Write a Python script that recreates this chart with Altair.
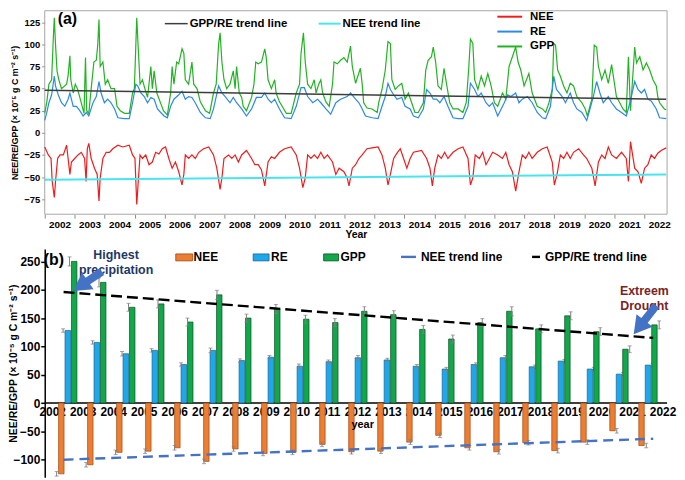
import altair as alt
import pandas as pd

FONT = "Liberation Sans"

# ---------------- panel (a): 8-day fluxes (year, value)
gpp_points = [
    (2002.00, 22), (2002.07, 35), (2002.14, 55), (2002.23, 60), (2002.29, 110), (2002.32, 130),
    (2002.36, 100), (2002.41, 70), (2002.47, 60), (2002.56, 50), (2002.73, 55), (2002.78, 65),
    (2002.84, 87), (2002.87, 60), (2002.95, 45), (2003.02, 55), (2003.09, 50), (2003.17, 40),
    (2003.25, 30), (2003.31, 22), (2003.36, 85), (2003.40, 25), (2003.47, 22), (2003.55, 50),
    (2003.64, 80), (2003.72, 82), (2003.77, 100), (2003.81, 128), (2003.85, 75), (2003.94, 80),
    (2004.02, 55), (2004.10, 60), (2004.21, 50), (2004.33, 50), (2004.41, 30), (2004.52, 25),
    (2004.66, 22), (2004.82, 22), (2004.93, 45), (2004.99, 50), (2005.04, 100), (2005.07, 130),
    (2005.12, 95), (2005.18, 55), (2005.26, 60), (2005.34, 50), (2005.43, 40), (2005.54, 75),
    (2005.59, 50), (2005.65, 70), (2005.74, 45), (2005.85, 35), (2005.96, 25), (2006.09, 20),
    (2006.20, 45), (2006.25, 75), (2006.31, 55), (2006.40, 80), (2006.47, 78), (2006.58, 95),
    (2006.64, 90), (2006.69, 60), (2006.80, 55), (2006.91, 80), (2006.97, 55), (2007.08, 50),
    (2007.19, 35), (2007.36, 25), (2007.50, 22), (2007.63, 45), (2007.72, 55), (2007.80, 100),
    (2007.85, 113), (2007.91, 80), (2007.98, 60), (2008.07, 50), (2008.18, 55), (2008.29, 70),
    (2008.35, 50), (2008.40, 75), (2008.49, 45), (2008.57, 40), (2008.62, 30), (2008.73, 25),
    (2008.90, 40), (2008.98, 55), (2009.04, 80), (2009.12, 78), (2009.23, 80), (2009.34, 95),
    (2009.39, 85), (2009.45, 60), (2009.56, 50), (2009.67, 60), (2009.72, 45), (2009.83, 35),
    (2009.92, 30), (2010.06, 22), (2010.22, 22), (2010.39, 45), (2010.50, 55), (2010.55, 90),
    (2010.63, 113), (2010.69, 80), (2010.77, 55), (2010.88, 50), (2010.99, 60), (2011.05, 45),
    (2011.14, 55), (2011.21, 60), (2011.27, 45), (2011.38, 35), (2011.49, 30), (2011.60, 55),
    (2011.65, 80), (2011.76, 78), (2011.87, 82), (2011.98, 85), (2012.09, 80), (2012.20, 98),
    (2012.26, 75), (2012.37, 56), (2012.53, 73), (2012.59, 55), (2012.64, 34), (2012.75, 28),
    (2012.92, 27), (2013.09, 23), (2013.14, 34), (2013.25, 49), (2013.36, 71), (2013.45, 103),
    (2013.53, 101), (2013.58, 60), (2013.69, 49), (2013.80, 53), (2013.91, 56), (2014.02, 38),
    (2014.13, 45), (2014.24, 34), (2014.35, 23), (2014.46, 23), (2014.63, 34), (2014.71, 71),
    (2014.79, 82), (2014.90, 86), (2014.96, 97), (2015.04, 80), (2015.12, 53), (2015.23, 49),
    (2015.32, 73), (2015.40, 56), (2015.51, 34), (2015.62, 27), (2015.79, 27), (2015.95, 23),
    (2016.06, 34), (2016.14, 71), (2016.20, 106), (2016.28, 101), (2016.34, 60), (2016.45, 49),
    (2016.56, 64), (2016.67, 53), (2016.78, 67), (2016.89, 53), (2017.00, 34), (2017.11, 30),
    (2017.27, 45), (2017.38, 38), (2017.49, 75), (2017.60, 86), (2017.71, 97), (2017.79, 80),
    (2017.88, 71), (2017.99, 53), (2018.15, 67), (2018.26, 45), (2018.43, 30), (2018.60, 27),
    (2018.71, 23), (2018.82, 34), (2018.93, 49), (2018.98, 101), (2019.04, 99), (2019.11, 71),
    (2019.20, 64), (2019.31, 53), (2019.42, 45), (2019.53, 56), (2019.64, 53), (2019.75, 41),
    (2019.92, 34), (2020.03, 27), (2020.10, 19), (2020.25, 38), (2020.33, 99), (2020.41, 97),
    (2020.47, 75), (2020.58, 60), (2020.69, 71), (2020.80, 56), (2020.91, 77), (2021.07, 41),
    (2021.18, 34), (2021.29, 27), (2021.40, 23), (2021.47, 86), (2021.54, 25), (2021.63, 71),
    (2021.68, 97), (2021.74, 79), (2021.85, 86), (2021.96, 71), (2022.07, 79), (2022.18, 71),
    (2022.29, 60), (2022.40, 53), (2022.45, 41), (2022.51, 34), (2022.67, 27), (2022.73, 26),
]

re_points = [
    (2002.00, 14), (2002.07, 23), (2002.14, 34), (2002.23, 43), (2002.32, 64), (2002.36, 53),
    (2002.45, 43), (2002.56, 34), (2002.67, 30), (2002.78, 38), (2002.84, 45), (2002.95, 30),
    (2003.06, 30), (2003.17, 25), (2003.28, 19), (2003.39, 23), (2003.47, 19), (2003.61, 34),
    (2003.72, 41), (2003.81, 58), (2003.88, 45), (2003.99, 34), (2004.10, 38), (2004.21, 34),
    (2004.33, 27), (2004.44, 17), (2004.66, 16), (2004.82, 16), (2004.93, 34), (2005.04, 55),
    (2005.10, 53), (2005.21, 45), (2005.32, 41), (2005.43, 34), (2005.54, 40), (2005.65, 38),
    (2005.76, 27), (2005.87, 23), (2005.98, 19), (2006.09, 17), (2006.20, 30), (2006.31, 38),
    (2006.47, 43), (2006.58, 47), (2006.69, 38), (2006.80, 41), (2006.91, 40), (2007.02, 34),
    (2007.19, 23), (2007.36, 17), (2007.52, 16), (2007.63, 27), (2007.80, 53), (2007.91, 45),
    (2008.02, 41), (2008.18, 34), (2008.29, 40), (2008.40, 34), (2008.57, 27), (2008.73, 19),
    (2008.90, 27), (2009.06, 40), (2009.23, 40), (2009.34, 45), (2009.45, 38), (2009.56, 34),
    (2009.67, 38), (2009.83, 27), (2010.00, 17), (2010.22, 16), (2010.39, 30), (2010.55, 51),
    (2010.66, 51), (2010.77, 41), (2010.94, 34), (2011.10, 38), (2011.21, 34), (2011.38, 27),
    (2011.54, 21), (2011.71, 34), (2011.87, 38), (2012.09, 41), (2012.20, 45), (2012.37, 38),
    (2012.48, 34), (2012.59, 27), (2012.70, 19), (2012.92, 17), (2013.12, 16), (2013.25, 30),
    (2013.36, 41), (2013.45, 56), (2013.53, 49), (2013.64, 43), (2013.75, 38), (2013.91, 40),
    (2014.02, 30), (2014.19, 27), (2014.30, 19), (2014.46, 17), (2014.63, 27), (2014.74, 49),
    (2014.85, 45), (2014.96, 38), (2015.07, 38), (2015.18, 34), (2015.32, 41), (2015.45, 30),
    (2015.62, 17), (2015.79, 16), (2015.95, 16), (2016.12, 30), (2016.20, 56), (2016.34, 49),
    (2016.45, 41), (2016.56, 45), (2016.72, 34), (2016.83, 30), (2016.94, 34), (2017.11, 19),
    (2017.33, 34), (2017.44, 43), (2017.55, 41), (2017.71, 45), (2017.82, 34), (2017.93, 38),
    (2018.10, 41), (2018.26, 34), (2018.43, 23), (2018.60, 17), (2018.71, 16), (2018.87, 30),
    (2018.98, 64), (2019.07, 49), (2019.26, 41), (2019.37, 34), (2019.53, 45), (2019.64, 34),
    (2019.75, 27), (2019.92, 23), (2020.08, 14), (2020.19, 27), (2020.30, 41), (2020.41, 58),
    (2020.52, 45), (2020.63, 34), (2020.80, 41), (2020.91, 34), (2021.07, 27), (2021.24, 23),
    (2021.40, 19), (2021.52, 34), (2021.68, 58), (2021.79, 49), (2021.90, 45), (2022.01, 49),
    (2022.12, 38), (2022.23, 36), (2022.40, 27), (2022.51, 17), (2022.73, 16),
]

nee_points = [
    (2002.00, -16), (2002.12, -25), (2002.21, -29), (2002.25, -55), (2002.32, -73), (2002.36, -55),
    (2002.43, -29), (2002.51, -25), (2002.62, -25), (2002.73, -14), (2002.78, -29), (2002.84, -47),
    (2002.89, -33), (2003.00, -29), (2003.11, -25), (2003.22, -22), (2003.33, -29), (2003.38, -55),
    (2003.42, -18), (2003.47, -12), (2003.55, -29), (2003.66, -40), (2003.75, -47), (2003.81, -77),
    (2003.85, -51), (2003.94, -29), (2004.05, -22), (2004.16, -22), (2004.27, -18), (2004.44, -14),
    (2004.60, -16), (2004.82, -14), (2004.93, -25), (2005.01, -29), (2005.04, -55), (2005.07, -81),
    (2005.12, -55), (2005.18, -25), (2005.26, -29), (2005.37, -25), (2005.48, -36), (2005.59, -33),
    (2005.70, -22), (2005.81, -24), (2005.92, -18), (2006.03, -16), (2006.14, -29), (2006.25, -40),
    (2006.36, -33), (2006.47, -44), (2006.58, -59), (2006.64, -47), (2006.69, -25), (2006.80, -29),
    (2006.91, -25), (2007.02, -29), (2007.14, -22), (2007.30, -18), (2007.47, -16), (2007.63, -25),
    (2007.74, -40), (2007.85, -64), (2007.91, -51), (2007.98, -29), (2008.13, -25), (2008.24, -29),
    (2008.35, -25), (2008.46, -33), (2008.57, -25), (2008.73, -20), (2008.90, -29), (2009.01, -36),
    (2009.12, -36), (2009.23, -42), (2009.34, -60), (2009.45, -33), (2009.56, -27), (2009.67, -29),
    (2009.83, -22), (2010.00, -18), (2010.22, -16), (2010.39, -25), (2010.50, -40), (2010.61, -62),
    (2010.69, -51), (2010.77, -25), (2010.88, -29), (2010.99, -25), (2011.10, -29), (2011.21, -22),
    (2011.32, -29), (2011.43, -25), (2011.60, -33), (2011.71, -47), (2011.82, -40), (2011.98, -44),
    (2012.09, -51), (2012.15, -60), (2012.26, -40), (2012.37, -36), (2012.48, -29), (2012.59, -25),
    (2012.75, -18), (2012.92, -17), (2013.12, -16), (2013.25, -25), (2013.36, -40), (2013.45, -59),
    (2013.53, -47), (2013.64, -29), (2013.75, -23), (2013.86, -18), (2013.97, -29), (2014.08, -40),
    (2014.19, -29), (2014.30, -22), (2014.57, -20), (2014.74, -29), (2014.85, -40), (2014.93, -60),
    (2015.01, -40), (2015.12, -25), (2015.23, -29), (2015.34, -22), (2015.45, -29), (2015.62, -22),
    (2015.79, -18), (2015.95, -16), (2016.12, -29), (2016.20, -59), (2016.28, -51), (2016.36, -25),
    (2016.50, -29), (2016.61, -22), (2016.72, -36), (2016.83, -29), (2016.94, -22), (2017.11, -25),
    (2017.27, -29), (2017.38, -22), (2017.49, -36), (2017.60, -44), (2017.71, -66), (2017.82, -44),
    (2017.93, -25), (2018.04, -29), (2018.15, -22), (2018.26, -29), (2018.43, -22), (2018.60, -18),
    (2018.76, -16), (2018.93, -33), (2019.00, -59), (2019.09, -47), (2019.20, -25), (2019.31, -29),
    (2019.42, -22), (2019.53, -29), (2019.64, -22), (2019.81, -18), (2019.97, -25), (2020.08, -29),
    (2020.25, -40), (2020.36, -60), (2020.47, -33), (2020.58, -25), (2020.69, -29), (2020.80, -16),
    (2020.91, -25), (2021.07, -29), (2021.24, -22), (2021.40, -29), (2021.47, -55), (2021.54, -10),
    (2021.68, -40), (2021.79, -44), (2021.90, -57), (2022.01, -40), (2022.12, -36), (2022.23, -25),
    (2022.34, -29), (2022.45, -23), (2022.56, -20), (2022.73, -17),
]

trend_years = [2002.0, 2022.73]
gpp_re_trend = [48, 38]
nee_trend = [-53, -47]

# ---------------- panel (b): annual sums
years = list(range(2002, 2023))
nee_sum = [-125, -109, -87, -85, -79, -103, -81, -89, -87, -73, -86,
           -85, -69, -57, -79, -86, -70, -84, -69, -49, -75]
re_sum = [128, 107, 87, 93, 68, 93, 75, 81, 65, 73, 80,
          76, 65, 60, 68, 80, 64, 74, 60, 51, 67]
gpp_sum = [250, 213, 169, 175, 143, 191, 150, 166, 148, 142, 162,
           156, 130, 113, 142, 162, 131, 154, 126, 95, 138]
nee_err = [4, 4, 4, 4, 4, 4, 4, 4, 4, 4, 4, 4, 4, 4, 4, 4, 4, 4, 4, 4, 4]
re_err = [3, 3, 4, 3, 3, 4, 3, 3, 4, 3, 4, 3, 3, 3, 3, 4, 3, 3, 3, 3, 3]
gpp_err = [8, 8, 7, 7, 7, 8, 7, 8, 7, 7, 8, 7, 7, 7, 7, 8, 7, 7, 7, 6, 7]

bar_trend_years = [2002, 2022]
gpp_re_bar_trend = [196, 115]
nee_bar_trend = [-100, -63]

# annotation anchors (year, value)
precip_note = (2003.78, 261)
precip_arrow = [(2003.30, 232), (2002.38, 200)]
drought_note = (2021.70, 198)
drought_arrow = [(2022.10, 172), (2021.36, 123)]

W = 627
HA = 205
HB = 230
TITLE_Y = "NEE/RE/GPP (× 10⁻⁵ g C m⁻² s⁻¹)"

RED, BLUE, GREEN = "#ee1c1c", "#2b8ae6", "#22b322"
one = pd.DataFrame({"k": [0]})


def key_line(x1, x2, y, color, width=2.0, dash=None):
    kw = dict(color=color, strokeWidth=width)
    if dash:
        kw["strokeDash"] = dash
    return alt.Chart(one).mark_rule(**kw).encode(
        x=alt.value(x1), x2=alt.value(x2), y=alt.value(y))


def key_box(x1, x2, y1, y2, fill, stroke):
    return alt.Chart(one).mark_rect(fill=fill, stroke=stroke, strokeWidth=0.8).encode(
        x=alt.value(x1), x2=alt.value(x2), y=alt.value(y1), y2=alt.value(y2))


def key_text(x, y, txt, size=11.5, color="black"):
    return alt.Chart(one).mark_text(
        align="left", baseline="middle", fontSize=size, fontWeight="bold", color=color
    ).encode(x=alt.value(x), y=alt.value(y), text=alt.value(txt))


# ================= panel (a)
def pts(points, name):
    return pd.DataFrame({"year": [p[0] for p in points],
                         "value": [p[1] for p in points], "series": name})


ts = pd.concat([pts(gpp_points, "GPP"), pts(re_points, "RE"), pts(nee_points, "NEE")])

y_scale_a = alt.Scale(domain=[-92, 138], nice=False, zero=False)
axis_a = alt.Axis(values=[-75, -50, -25, 0, 25, 50, 75, 100, 125], tickSize=3,
                  tickColor="#8c8c8c", domain=False, grid=False, labelFontSize=9.5,
                  labelFontWeight="bold", labelColor="black", labelPadding=2,
                  title=TITLE_Y, titleFontSize=9, titleFontWeight="bold",
                  titleColor="black", titleX=-30, titleY=HA / 2, titleAngle=270,
                  titleBaseline="middle")
x_a = alt.X("year:Q", scale=alt.Scale(domain=[2002, 2022.76], nice=False, zero=False),
            axis=alt.Axis(values=years, format="d", labelOffset=15, labelFlush=False,
                          labelOverlap=False, tickSize=4, tickColor="#8c8c8c", domain=False,
                          grid=False, labelFontSize=10, labelFontWeight="bold",
                          labelColor="black", labelPadding=1, title="Year",
                          titleFontSize=10.5, titleFontWeight="bold", titleColor="black",
                          titlePadding=0))


def ya(field="value"):
    return alt.Y(f"{field}:Q", scale=y_scale_a, axis=axis_a)


frame = alt.Chart(one).mark_rect(fillOpacity=0, stroke="#a6a6a6", strokeWidth=1).encode(
    x=alt.value(0), x2=alt.value(W), y=alt.value(0), y2=alt.value(HA))

flux_lines = alt.Chart(ts).mark_line(strokeWidth=1.2).encode(
    x=x_a, y=ya(),
    color=alt.Color("series:N", legend=None,
                    scale=alt.Scale(domain=["GPP", "RE", "NEE"], range=[GREEN, BLUE, RED])))

trend_a = pd.DataFrame({"year": trend_years, "gppre": gpp_re_trend, "nee": nee_trend})
gpp_re_line = alt.Chart(trend_a).mark_line(color="#3c3c3c", strokeWidth=1.5).encode(
    x=x_a, y=ya("gppre"))
nee_line = alt.Chart(trend_a).mark_line(color="#48e5ef", strokeWidth=2).encode(
    x=x_a, y=ya("nee"))

panel_a = alt.layer(
    frame, flux_lines, gpp_re_line, nee_line,
    key_text(13, 8.5, "(a)", size=16),
    key_line(121, 144, 13, "#3c3c3c", 1.5), key_text(146, 13, "GPP/RE trend line"),
    key_line(276, 298, 13, "#48e5ef", 2), key_text(300, 13, "NEE trend line"),
    key_line(456, 481, 6, RED), key_text(489, 6, "NEE"),
    key_line(456, 481, 21, BLUE), key_text(489, 21, "RE"),
    key_line(456, 481, 36, GREEN), key_text(489, 36, "GPP"),
).properties(width=W, height=HA)

# ================= panel (b)
x_scale_b = alt.Scale(domain=[2001.36, 2022.47], nice=False, zero=False)
y_scale_b = alt.Scale(domain=[-131, 272], nice=False, zero=False)
axis_b = alt.Axis(values=[-100, -50, 0, 50, 100, 150, 200, 250], tickSize=4,
                  tickColor="black", tickWidth=1.5, domainColor="black", domainWidth=1.5,
                  grid=False, labelFontSize=12, labelFontWeight="bold", labelColor="black",
                  labelPadding=1, title=TITLE_Y, titleFontSize=10.5, titleFontWeight="bold",
                  titleColor="black", titleX=-31, titleY=HB / 2, titleAngle=270,
                  titleBaseline="middle")


def xb(field="year"):
    return alt.X(f"{field}:Q", scale=x_scale_b, axis=None)


def yb(field="value"):
    return alt.Y(f"{field}:Q", scale=y_scale_b, axis=axis_b)


bars = pd.concat([
    pd.DataFrame({"year": years, "value": nee_sum, "err": nee_err, "series": "NEE"}),
    pd.DataFrame({"year": years, "value": re_sum, "err": re_err, "series": "RE"}),
    pd.DataFrame({"year": years, "value": gpp_sum, "err": gpp_err, "series": "GPP"}),
])
bars["lo"] = bars["value"] - bars["err"]
bars["hi"] = bars["value"] + bars["err"]

bar_styles = [("NEE", -7, "#ed7d31", "#9c4a14"),
              ("RE", -0.5, "#1ea8ec", "#1b5f8f"),
              ("GPP", 6, "#10a84a", "#0f4d22")]

labels_df = pd.DataFrame({"year": years, "value": [0] * len(years)})
year_labels = alt.Chart(labels_df).mark_text(
    baseline="top", dy=4, fontSize=12, fontWeight="bold", color="black"
).encode(x=alt.X("year:Q", scale=alt.Scale(domain=[2002, 2022], range=[8, 623]), axis=None),
         y=yb(), text=alt.Text("year:Q", format="d"))

zero_line = alt.Chart(pd.DataFrame({"value": [0]})).mark_rule(
    color="black", strokeWidth=1.5).encode(y=yb())

layers_b = [year_labels, zero_line]
for name, off, fill, stroke in bar_styles:
    base = alt.Chart(bars).transform_filter(alt.datum.series == name)
    layers_b.append(base.mark_bar(size=5.5, xOffset=off, fill=fill, stroke=stroke,
                                  strokeWidth=0.7).encode(x=xb(), y=yb()))
    layers_b.append(base.mark_rule(xOffset=off, color="#808080", strokeWidth=1).encode(
        x=xb(), y=yb("lo"), y2="hi:Q"))
    for end in ("lo", "hi"):
        layers_b.append(base.mark_tick(orient="horizontal", size=4, thickness=1,
                                       xOffset=off, color="#808080").encode(x=xb(), y=yb(end)))

trend_b = pd.DataFrame({"year": bar_trend_years, "gppre": gpp_re_bar_trend,
                        "nee": nee_bar_trend})
layers_b.append(alt.Chart(trend_b).mark_line(color="#4472c4", strokeWidth=2.4,
                                             strokeDash=[10, 6]).encode(x=xb(), y=yb("nee")))
layers_b.append(alt.Chart(trend_b).mark_line(color="black", strokeWidth=2.4,
                                             strokeDash=[11, 5]).encode(x=xb(), y=yb("gppre")))

notes = pd.DataFrame({
    "year": [precip_note[0], drought_note[0]],
    "value": [precip_note[1], drought_note[1]],
    "text": ["Highest\nprecipitation", "Extreem\nDrought"],
    "color": ["#203864", "#7b2323"],
})
layers_b.append(alt.Chart(notes).mark_text(
    fontSize=12.5, fontWeight="bold", lineBreak="\n", lineHeight=15, baseline="middle"
).encode(x=xb(), y=yb(), text="text:N", color=alt.Color("color:N", scale=None)))

arrow_rows = []
for (tx, tv), (hx, hv), ang in [(precip_arrow[0], precip_arrow[1], 235),
                                (drought_arrow[0], drought_arrow[1], 218)]:
    cx = hx + 0.3 * (tx - hx)
    cv = hv + 0.3 * (tv - hv)
    arrow_rows.append({"year": tx, "value": tv, "year2": cx, "value2": cv,
                       "hx": cx, "hv": cv, "angle": ang})
arrows = pd.DataFrame(arrow_rows)
layers_b.append(alt.Chart(arrows).mark_rule(color="#4472c4", strokeWidth=8).encode(
    x=xb(), y=yb(), x2="year2:Q", y2="value2:Q"))
layers_b.append(alt.Chart(arrows).mark_point(
    shape="triangle", filled=True, size=420, color="#4472c4", opacity=1
).encode(x=xb("hx"), y=yb("hv"), angle=alt.Angle("angle:Q", scale=None)))

layers_b += [
    key_text(-1, 11.5, "(b)", size=16),
    key_box(132, 149, 5, 12, "#ed7d31", "#9c4a14"), key_text(150, 8.5, "NEE", 12),
    key_box(210, 226, 5, 12, "#1ea8ec", "#1b5f8f"), key_text(228, 8.5, "RE", 12),
    key_box(281, 296, 5, 12, "#10a84a", "#0f4d22"), key_text(298, 8.5, "GPP", 12),
    key_line(359, 374, 8, "#4472c4", 2.4), key_text(379, 8.5, "NEE trend line", 12),
    key_line(491, 499, 8, "black", 2.4), key_text(504, 8.5, "GPP/RE trend line", 12),
    key_text(309, 177, "year", 11),
]

panel_b = alt.layer(*layers_b).resolve_scale(x="independent").properties(width=W, height=HB)

chart = alt.vconcat(panel_a, panel_b, spacing=35, bounds="flush").properties(
    padding=0
).configure(font=FONT).configure_view(strokeWidth=0)

chart.save("out.html", embed_options={"renderer": "svg", "actions": False})
